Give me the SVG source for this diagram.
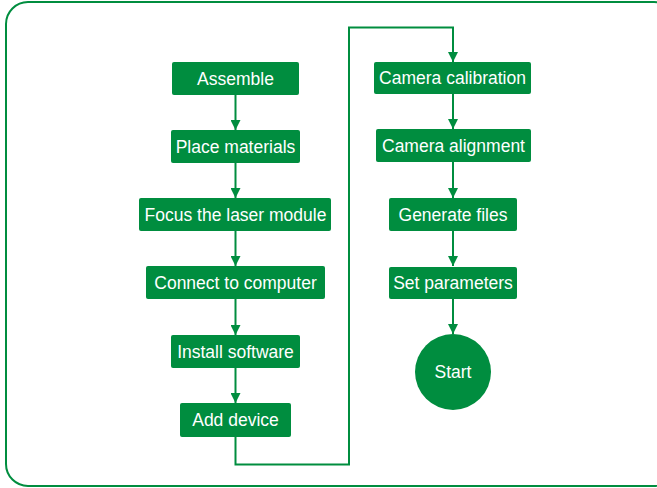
<svg xmlns="http://www.w3.org/2000/svg" width="657" height="488" viewBox="0 0 657 488">
<defs>
<style>
.box{fill:#008d3f;}
.t{fill:#fff;font-family:"Liberation Sans",Arial,sans-serif;font-size:17.5px;text-anchor:middle;dominant-baseline:central;}
.c{fill:none;stroke:#008d3f;stroke-width:2;}
</style>
<marker id="ah" viewBox="0 0 10 10" refX="10" refY="5" markerWidth="5" markerHeight="5" markerUnits="strokeWidth" orient="auto">
<path d="M0,0 L10,5 L0,10 z" fill="#008d3f"/>
</marker>
</defs>
<rect x="6" y="2" width="670" height="484" rx="22" fill="#fff" stroke="#008d3f" stroke-width="2"/>
<g id="connectors">
<line class="c" x1="235.5" y1="95" x2="235.5" y2="130" marker-end="url(#ah)"/>
<line class="c" x1="235.5" y1="163" x2="235.5" y2="198" marker-end="url(#ah)"/>
<line class="c" x1="235.5" y1="231" x2="235.5" y2="266" marker-end="url(#ah)"/>
<line class="c" x1="235.5" y1="299" x2="235.5" y2="335" marker-end="url(#ah)"/>
<line class="c" x1="235.5" y1="368" x2="235.5" y2="403" marker-end="url(#ah)"/>
<polyline class="c" points="235.5,437 235.5,464.5 349,464.5 349,27.5 453,27.5 453,62" marker-end="url(#ah)"/>
<line class="c" x1="453" y1="94" x2="453" y2="129" marker-end="url(#ah)"/>
<line class="c" x1="453" y1="162" x2="453" y2="198" marker-end="url(#ah)"/>
<line class="c" x1="453" y1="231" x2="453" y2="266" marker-end="url(#ah)"/>
<line class="c" x1="453" y1="299" x2="453" y2="334" marker-end="url(#ah)"/>
</g>
<g id="assemble"><rect class="box" x="172" y="62" width="127" height="33" rx="2"/><text class="t" x="235.5" y="78.5">Assemble</text></g>
<g id="place"><rect class="box" x="171" y="130" width="129" height="33" rx="2"/><text class="t" x="235.5" y="146.5">Place materials</text></g>
<g id="focus"><rect class="box" x="139" y="198" width="192" height="33" rx="2"/><text class="t" x="235.5" y="214.5">Focus the laser module</text></g>
<g id="connect"><rect class="box" x="146" y="266" width="179" height="33" rx="2"/><text class="t" x="235.5" y="282.5">Connect to computer</text></g>
<g id="install"><rect class="box" x="171" y="335" width="129" height="33" rx="2"/><text class="t" x="235.5" y="351.5">Install software</text></g>
<g id="adddevice"><rect class="box" x="180" y="403" width="111" height="34" rx="2"/><text class="t" x="235.5" y="420">Add device</text></g>
<g id="calibration"><rect class="box" x="374" y="62" width="157" height="32" rx="2"/><text class="t" x="452.5" y="78">Camera calibration</text></g>
<g id="alignment"><rect class="box" x="376" y="129" width="155" height="33" rx="2"/><text class="t" x="453.5" y="145.5">Camera alignment</text></g>
<g id="generate"><rect class="box" x="389" y="198" width="128" height="33" rx="2"/><text class="t" x="453" y="214.5">Generate files</text></g>
<g id="setparams"><rect class="box" x="389" y="267" width="128" height="32" rx="2"/><text class="t" x="453" y="283">Set parameters</text></g>
<g id="start"><circle cx="453" cy="372" r="38" fill="#008d3f"/><text class="t" x="453" y="372">Start</text></g>
</svg>
